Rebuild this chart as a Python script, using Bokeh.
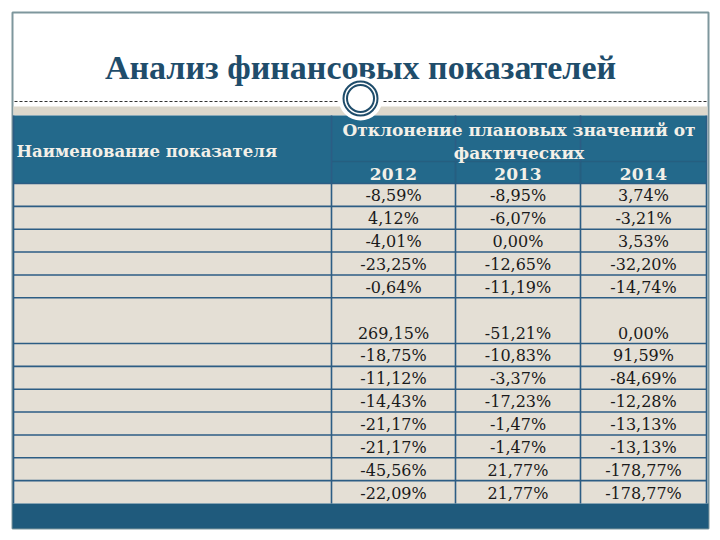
from bokeh.plotting import figure
from bokeh.models import Range1d, ColumnDataSource
from bokeh.core.properties import value
from bokeh.embed import file_html
from bokeh.resources import INLINE

# ---------------- data ----------------
TITLE = "Анализ финансовых показателей"
HEAD_NAME = "Наименование показателя"
HEAD_GROUP_1 = "Отклонение плановых значений от"
HEAD_GROUP_2 = "фактических"
years = ["2012", "2013", "2014"]
names = [""] * 13
v2012 = [-8.59, 4.12, -4.01, -23.25, -0.64, 269.15, -18.75, -11.12, -14.43, -21.17, -21.17, -45.56, -22.09]
v2013 = [-8.95, -6.07, 0.00, -12.65, -11.19, -51.21, -10.83, -3.37, -17.23, -1.47, -1.47, 21.77, 21.77]
v2014 = [3.74, -3.21, 3.53, -32.20, -14.74, 0.00, 91.59, -84.69, -12.28, -13.13, -13.13, -178.77, -178.77]

# ---------------- layout / style ----------------
W, H = 712, 532
row_units = [1, 1, 1, 1, 1, 2, 1, 1, 1, 1, 1, 1, 1]
col_edges = [13, 331, 455, 580, 706]
table_top = 115
group_bottom = 161
head_bottom = 183
body_bottom = 503
frame_l, frame_r, frame_t, frame_b = 12, 708, 12, 528

HEAD_FILL = "#23698b"
BAND_FILL = "#1f5a7c"
CELL_FILL = "#e4dfd5"
GRID = "#2c5d84"
TITLE_COL = "#1f4d6b"
HEAD_TXT = "#f3f0e8"
TXT = "#1a1a1a"
SERIF = "DejaVu Serif"


def fmt(v):
    return ("%.2f%%" % v).replace(".", ",")


p = figure(width=W, height=H, x_range=Range1d(0, W), y_range=Range1d(H, 0),
           output_backend="svg", toolbar_location=None, min_border=0,
           x_axis_type=None, y_axis_type=None)
p.grid.visible = False
p.outline_line_color = None
p.background_fill_color = "white"
p.border_fill_color = "white"

# frame
p.quad(left=[frame_l], right=[frame_r], top=[frame_t], bottom=[frame_b],
       fill_color="white", line_color="#7e979d", line_width=2)

# title
p.text(x=[360], y=[67], text=[TITLE], text_align="center", text_baseline="middle",
       text_font=value("Liberation Serif"), text_font_style="bold", text_font_size="34px",
       text_color=TITLE_COL)

# beige band under dashed line
p.quad(left=[frame_l + 1], right=[frame_r - 1], top=[106], bottom=[table_top],
       fill_color="#ddd8cc", line_color=None)

# dashed line
p.segment(x0=[frame_l + 2, 378], x1=[342, frame_r - 2], y0=[101, 101], y1=[101, 101],
          line_color="#333333", line_width=1, line_dash="3 2")

# header
p.quad(left=[col_edges[0]], right=[col_edges[-1]], top=[table_top], bottom=[head_bottom],
       fill_color=HEAD_FILL, line_color=None)

# body rows
total_units = sum(row_units)
unit = (body_bottom - head_bottom) / total_units
tops, bottoms = [], []
acc = head_bottom
for u in row_units:
    tops.append(acc)
    acc += u * unit
    bottoms.append(acc)

p.quad(left=[col_edges[0]], right=[col_edges[-1]], top=[head_bottom], bottom=[body_bottom],
       fill_color=CELL_FILL, line_color=None)

# bottom band
p.quad(left=[frame_l], right=[frame_r], top=[body_bottom], bottom=[frame_b],
       fill_color=BAND_FILL, line_color=None)

# grid lines
hx0, hx1, hy = [], [], []
for b in bottoms[:-1]:
    hx0.append(col_edges[0]); hx1.append(col_edges[-1]); hy.append(b)
hx0.append(col_edges[0]); hx1.append(col_edges[-1]); hy.append(head_bottom)
p.segment(x0=hx0, x1=hx1, y0=hy, y1=hy, line_color=GRID, line_width=1.6)
p.segment(x0=[col_edges[1]], x1=[col_edges[-1]], y0=[group_bottom], y1=[group_bottom],
          line_color="#255f80", line_width=1.4)
vx = col_edges[1:-1]
p.segment(x0=vx, x1=vx, y0=[table_top] * len(vx), y1=[body_bottom] * len(vx),
          line_color=GRID, line_width=1.6)
p.segment(x0=[col_edges[2], col_edges[3]], x1=[col_edges[2], col_edges[3]],
          y0=[group_bottom] * 2, y1=[head_bottom] * 2, line_color="#255f80", line_width=1.4)
p.segment(x0=[col_edges[0], col_edges[-1]], x1=[col_edges[0], col_edges[-1]],
          y0=[table_top] * 2, y1=[body_bottom] * 2, line_color=GRID, line_width=1.6)

# circle ornament
p.scatter(x=[360], y=[98], size=44, marker="circle", fill_color="white", line_color=None)
p.scatter(x=[360], y=[98], size=34, marker="circle", fill_color="white",
          line_color=TITLE_COL, line_width=2)
p.scatter(x=[360], y=[98], size=27, marker="circle", fill_color=None,
          line_color=TITLE_COL, line_width=2)

# header texts
mid_cols = [(col_edges[i] + col_edges[i + 1]) / 2 for i in range(len(col_edges) - 1)]
grp_x = (col_edges[1] + col_edges[-1]) / 2
p.text(x=[16], y=[151], text=[HEAD_NAME], text_align="left", text_baseline="middle",
       text_font=value(SERIF), text_font_style="bold", text_font_size="16.5px", text_color=HEAD_TXT)
p.text(x=[grp_x, grp_x], y=[129, 152], text=[HEAD_GROUP_1, HEAD_GROUP_2], text_align="center",
       text_baseline="middle", text_font=value(SERIF), text_font_style="bold",
       text_font_size="17px", text_color=HEAD_TXT)
p.text(x=mid_cols[1:], y=[173] * 3, text=years, text_align="center", text_baseline="middle",
       text_font=value(SERIF), text_font_style="bold", text_font_size="17px", text_color=HEAD_TXT)

# body texts
xs, ys, ts = [], [], []
for ci, col in enumerate([v2012, v2013, v2014]):
    for ri, v in enumerate(col):
        xs.append(mid_cols[ci + 1])
        ys.append(bottoms[ri] - unit / 2 + 1)
        ts.append(fmt(v))
src = ColumnDataSource(dict(x=xs, y=ys, t=ts))
p.text(x="x", y="y", text="t", source=src, text_align="center", text_baseline="middle",
       text_font=value(SERIF), text_font_size="16px", text_color=TXT)

# (empty) indicator-name column
nsrc = ColumnDataSource(dict(x=[col_edges[0] + 4] * len(names),
                             y=[b - unit / 2 for b in bottoms], t=names))
p.text(x="x", y="y", text="t", source=nsrc, text_align="left", text_baseline="middle",
       text_font=value(SERIF), text_font_size="16px", text_color=TXT)

open("out.html", "w").write(file_html(p, INLINE))
